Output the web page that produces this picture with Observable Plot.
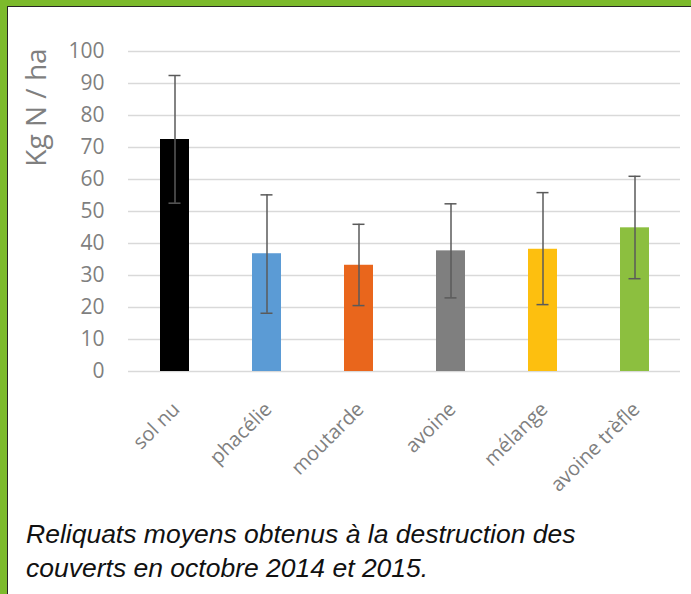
<!DOCTYPE html>
<html><head><meta charset="utf-8">
<script src="https://cdn.jsdelivr.net/npm/d3@7"></script>
<script src="https://cdn.jsdelivr.net/npm/@observablehq/plot@0.6"></script>
<style>
html,body{margin:0;padding:0;background:#fff;}
#wrap{position:relative;width:691px;height:594px;background:#7cba2c;overflow:hidden;}
#inner{position:absolute;left:7px;top:6px;right:0;bottom:0;background:#fff;border-left:1.5px solid #262626;border-top:1.5px solid #262626;}
#chart{position:absolute;left:0;top:0;}
#chart svg{background:transparent;}
#caption{position:absolute;left:26px;top:517px;font-family:"Liberation Sans",Arial,sans-serif;font-style:italic;font-size:26.5px;line-height:34px;color:#111;white-space:nowrap;}
</style></head><body>
<div id="wrap"><div id="inner"></div><div id="chart"></div><div id="caption">Reliquats moyens obtenus à la destruction des<br>couverts en octobre 2014 et 2015.</div></div>
<script>
const categories = ["sol nu", "phacélie", "moutarde", "avoine", "mélange", "avoine trèfle"];
const means = [72.5, 36.8, 33.2, 37.7, 38.2, 44.9];
const errLow = [52.6, 18.2, 20.6, 23.0, 20.9, 29.0];
const errHigh = [92.5, 55.2, 46.0, 52.4, 55.9, 61.0];
const colors = ["#000000", "#5b9bd5", "#e9661c", "#7f7f7f", "#fdbf0f", "#8cbf3f"];
const yTicks = [0, 10, 20, 30, 40, 50, 60, 70, 80, 90, 100];
const yLabel = "Kg N / ha";

const data = categories.map((c, i) => ({cat: c, mean: means[i], lo: errLow[i], hi: errHigh[i]}));
const errColor = "#5a5a5a";
const textGray = "#7f7f7f";

const chart = Plot.plot({
  width: 691,
  height: 500,
  marginLeft: 128,
  marginRight: 11,
  marginTop: 51,
  marginBottom: 129,
  style: {background: "transparent", fontFamily: "'Open Sans', sans-serif", overflow: "visible"},
  x: {domain: categories, paddingInner: 0.685, paddingOuter: 0.3425, axis: null},
  y: {domain: [0, 100], axis: null},
  color: {domain: categories, range: colors},
  marks: [
    Plot.ruleY(yTicks, {stroke: "#d9d9d9", strokeWidth: 1.5}),
    Plot.barY(data, {x: "cat", y: "mean", fill: "cat"}),
    Plot.ruleX(data, {x: "cat", y1: "lo", y2: "hi", stroke: errColor, strokeWidth: 1.5}),
    Plot.tickY(data, {x: "cat", y: "lo", stroke: errColor, strokeWidth: 1.5, insetLeft: 8.5, insetRight: 8.5}),
    Plot.tickY(data, {x: "cat", y: "hi", stroke: errColor, strokeWidth: 1.5, insetLeft: 8.5, insetRight: 8.5}),
    Plot.axisY({ticks: yTicks, tickSize: 0, tickPadding: 24, fontSize: 21, color: textGray, label: null}),
    Plot.text(data, {x: "cat", y: 0, text: "cat", rotate: -45, textAnchor: "end", lineAnchor: "bottom", dx: 6, dy: 39, fontSize: 20, fill: textGray}),
    Plot.text([yLabel], {frameAnchor: "top-left", textAnchor: "middle", lineAnchor: "middle", rotate: -90, dx: -91, dy: 56, fontSize: 28, fill: textGray})
  ]
});
document.getElementById("chart").appendChild(chart);
</script>
</body></html>
